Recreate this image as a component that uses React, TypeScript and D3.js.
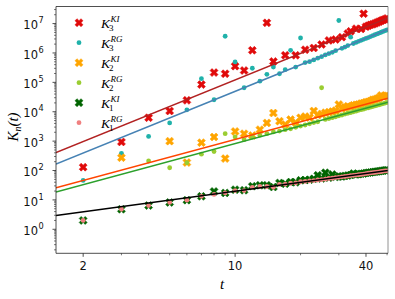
import React from 'react';
import * as d3 from 'd3';

// time steps
const tAll = [2, 3, 4, 5, 6, 7, 8, 9, 10, 11, 12, 13, 14, 15, 16, 17, 18, 19, 20, 21, 22, 23, 24, 25, 26,
  27, 28, 29, 30, 31, 32, 33, 34, 35, 36, 37, 38, 39, 40, 41, 42, 43, 44, 45, 46, 47, 48, 49, 50];
const tK3KI = [2, 3, 4, 5, 6, 7, 8, 9, 10, 11, 12, 14, 15, 17, 19, 21, 23, 25, 27, 29, 31, 33, 34, 36, 38,
  39, 40, 41, 42, 43, 44, 45, 46, 47, 48, 49, 50];
const tK2KI = [3, 5, 6, 7, 8, 9, 10, 11, 12, 13, 14, 15, 16, 17, 18, 19, 20, 21, 22, 23, 24, 25, 26, 27,
  28, 29, 30, 31, 32, 33, 34, 35, 36, 37, 38, 39, 40, 41, 42, 43, 44, 45, 46, 47, 48, 49, 50];
const tK2RG = [4, 5, 6, 7, 8, 9, 10, 11, 12, 13, 14, 15, 16, 17, 18, 19, 20, 21, 22, 23, 24, 25, 26, 27,
  28, 29, 30, 31, 32, 33, 34, 35, 36, 37, 38, 39, 40, 41, 42, 43, 44, 45, 46, 47, 48, 49, 50];

// K values
const k3KI = [130, 940, 6250, 10600, 24400, 83700, 215000, 196000, 356000, 253000, 1230000, 10600000,
  515000, 832000, 832000, 1290000, 1480000, 1940000, 2680000, 2880000, 3450000, 4550000, 5460000,
  6710000, 6570000, 21700000, 7870000, 8450000, 9060000, 9470000, 10150000, 10880000, 11650000,
  12500000, 13340000, 13930000, 15000000];
const k3RG = [46, 384, 1440, 4170, 11600, 133000, 25600, 3710000, 494000, 65600,
  302000, 110000, 188000, 332000, 196000, 271000, 1230000, 332000, 3230000, 471000,
  507000, 579000, 663000, 748000, 856000, 952000, 1050000, 1200000, 12730000, 1440000,
  1590000, 1780000, 3450000, 2100000, 2280000, 2480000, 2690000, 2900000, 3120000, 3350000,
  3620000, 3880000, 4160000, 4450000, 4740000, 5060000, 5400000, 5730000, 6090000];
const k2KI = [273, 1000, 186, 889, 1380, 254, 2140, 1790, 1550, 2460, 4170, 9050, 4790, 3680, 5400,
  4300, 6250, 6860, 6370, 10640, 7720, 8450, 9310, 9670, 10160, 10890, 17690, 12820, 14280, 15380,
  14650, 16470, 17200, 17690, 18910, 19760, 21220, 21710, 23290, 25480, 26090, 27910, 29850,
  35940, 32780, 34360, 35090];
const k2RG = [211, 124, 184, 359, 440, 1790, 1380, 1120, 1380, 1590, 1790, 2050, 2190, 2460, 2630,
  2950, 3240, 3540, 3890, 4270, 4570, 65600, 5490, 5890, 6300, 6760, 7240, 7750, 8300, 8890, 9320,
  9980, 10440, 11190, 11720, 12220, 13070, 13680, 14290, 15020, 15750, 16480, 17210, 18070, 18920,
  19770, 20740];
const k1KI = [2.0, 4.8, 6.4, 8.2, 9.8, 13.2, 19.4, 17.3, 22.3, 21.3, 29.3, 31.4, 31.4, 27.4, 37.8,
  35.3, 40.5, 39.5, 46.5, 47.5, 48.6, 52.1, 68.7, 53.4, 84.4, 57.1, 73.6, 61.2, 62.6, 62.6, 65.6,
  67.1, 70.2, 78.7, 73.6, 75.3, 77.1, 78.8, 82.6, 84.4, 86.4, 88.4, 90.4, 92.5, 94.8, 96.9, 99.1,
  101.5, 101.5];
const k1RG = [2.0, 4.8, 6.4, 8.2, 9.8, 13.2, 15.4, 17.3, 20.8, 20.8, 26.8, 28.6, 28.6, 26.8, 33.6,
  34.4, 36.9, 37.8, 41.4, 42.4, 44.4, 45.4, 47.5, 48.6, 50.9, 53.4, 54.6, 57.1, 58.5, 61.2, 62.6,
  64.1, 67.1, 68.7, 70.2, 71.8, 73.6, 75.3, 78.8, 80.7, 82.6, 84.4, 86.4, 88.4, 90.4, 92.5, 94.8,
  96.9, 96.9];

// power-law fits K = a t^b
const fitA = [120, 49.5, 11.4, 8.2, 1.97];
const fitB = [3, 3, 2, 2, 1];
const fitColors = ['#b22222', '#4682b4', '#ff4500', '#2ca02c', '#000000'];

const yMajor = [1, 10, 100, 1e3, 1e4, 1e5, 1e6, 1e7];
const yExp = ['0', '1', '2', '3', '4', '5', '6', '7'];
const xMajor = [2, 10, 40];
const xMinor = [3, 4, 5, 6, 7, 8, 9, 20, 30, 50];

const series = [
  { t: tK3KI, k: k3KI, sym: 'x', color: '#e00a0a', n: '3', tag: 'KI' },
  { t: tAll, k: k3RG, sym: 'o', color: '#20b2aa', n: '3', tag: 'RG' },
  { t: tK2KI, k: k2KI, sym: 'x', color: '#ffa500', n: '2', tag: 'KI' },
  { t: tK2RG, k: k2RG, sym: 'o', color: '#9acd32', n: '2', tag: 'RG' },
  { t: tAll, k: k1KI, sym: 'x', color: '#006400', n: '1', tag: 'KI' },
  { t: tAll, k: k1RG, sym: 'o', color: '#f08080', n: '1', tag: 'RG' },
];

const W = 395;
const H = 299;
const L = 56, R = 388, T = 6.5, B = 253.3;

const x = d3.scaleLog().domain([1.5, 50.5]).range([L, R]);
const y = d3.scaleLog().domain([Math.pow(10, -0.817), Math.pow(10, 7.581)]).range([B, T]);

const xMark = d3.symbol(d3.symbolCross, 40)();
const serif = '"Liberation Serif", "Times New Roman", serif';
const sans = '"DejaVu Sans", sans-serif';

function Marker({ sym, color, cx, cy }: { sym: string; color: string; cx: number; cy: number }) {
  if (sym === 'x') {
    return (
      <path d={xMark || ''} transform={`translate(${cx},${cy}) rotate(45)`} fill={color}
        stroke={color} strokeWidth={0.5} />
    );
  }
  return <circle cx={cx} cy={cy} r={2.4} fill={color} />;
}

export default function App() {
  const yMinor: number[] = [];
  const [d0, d1] = y.domain();
  for (let e = -1; e <= 7; e++) {
    for (let m = 2; m <= 9; m++) {
      const v = m * Math.pow(10, e);
      if (v > d0 && v < d1) yMinor.push(v);
    }
  }

  return (
    <svg width={W} height={H} style={{ position: 'absolute', left: 0, top: 0, background: '#fff' }}>
      <defs>
        <clipPath id="plot">
          <rect x={L} y={T} width={R - L} height={B - T} />
        </clipPath>
      </defs>

      <g clipPath="url(#plot)">
        {series.map((s, i) => (
          <g key={i}>
            {s.t.map((t, j) => (
              <Marker key={j} sym={s.sym} color={s.color} cx={x(t)} cy={y(s.k[j])} />
            ))}
          </g>
        ))}
        {fitA.map((a, i) => {
          const d = d3.line<number>().x(t => x(t)).y(t => y(a * Math.pow(t, fitB[i])))(x.domain());
          return <path key={i} d={d || ''} fill="none" stroke={fitColors[i]} strokeWidth={1.5} />;
        })}
      </g>

      {/* axes frame */}
      <line x1={L} y1={T} x2={R} y2={T} stroke="#222" strokeWidth={0.8} />
      <line x1={R} y1={T} x2={R} y2={B} stroke="#777" strokeWidth={0.8} />
      <line x1={L} y1={T} x2={L} y2={B} stroke="#222" strokeWidth={0.8} />
      <line x1={L} y1={B} x2={R} y2={B} stroke="#222" strokeWidth={0.8} />

      {/* y ticks */}
      {yMinor.map((v, i) => (
        <line key={'ym' + i} x1={L - 2} x2={L} y1={y(v)} y2={y(v)} stroke="#222" strokeWidth={0.6} />
      ))}
      {yMajor.map((v, i) => (
        <g key={'yM' + i}>
          <line x1={L - 3.5} x2={L} y1={y(v)} y2={y(v)} stroke="#222" strokeWidth={0.8} />
          <text x={L - 18} y={y(v) + 5.7} textAnchor="end" fontFamily={sans} fontSize={11.5} fill="#111">10</text>
          <text x={L - 17.5} y={y(v) - 0.3} textAnchor="start" fontFamily={sans} fontSize={8.2} fill="#111">{yExp[i]}</text>
        </g>
      ))}

      {/* x ticks */}
      {xMinor.map((v, i) => (
        <line key={'xm' + i} x1={x(v)} x2={x(v)} y1={B} y2={B + 2} stroke="#222" strokeWidth={0.6} />
      ))}
      {xMajor.map((v, i) => (
        <g key={'xM' + i}>
          <line x1={x(v)} x2={x(v)} y1={B} y2={B + 3.5} stroke="#222" strokeWidth={0.8} />
          <text x={x(v)} y={B + 16.5} textAnchor="middle" fontFamily={sans} fontSize={11.5} fill="#111">{v}</text>
        </g>
      ))}

      {/* axis labels */}
      <text x={222} y={289} textAnchor="middle" fontFamily={serif} fontStyle="italic" fontSize={15}>t</text>
      <text transform="translate(18,127) rotate(-90)" textAnchor="middle" fontFamily={serif} fontStyle="italic" fontSize={15}>
        K<tspan dy={3} fontSize={10}>n</tspan><tspan dy={-3}>(t)</tspan>
      </text>

      {/* legend */}
      {series.map((s, i) => {
        const ry = 22.7 + i * 20;
        return (
          <g key={'lg' + i}>
            <Marker sym={s.sym} color={s.color} cx={79} cy={ry} />
            <text x={101} y={ry + 5} fontFamily={serif} fontStyle="italic" fontSize={13.5}>K</text>
            <text x={109} y={ry + 8} fontFamily={serif} fontSize={9}>{s.n}</text>
            <text x={110.5} y={ry - 1} fontFamily={serif} fontStyle="italic" fontSize={9}>{s.tag}</text>
          </g>
        );
      })}
    </svg>
  );
}
